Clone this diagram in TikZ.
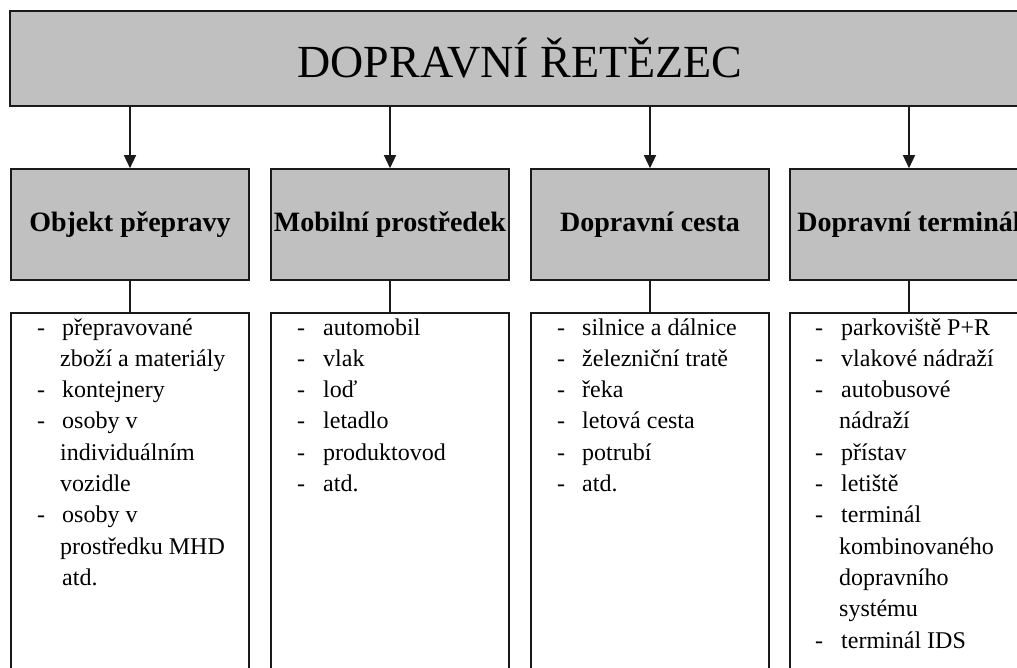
\documentclass[tikz,border=0pt]{standalone}
\usepackage{fontspec}
\setmainfont{Liberation Serif}
\usetikzlibrary{arrows.meta}
\definecolor{boxgray}{HTML}{C0C0C0}
\definecolor{edge}{HTML}{1A1A1A}
\begin{document}
\begin{tikzpicture}[x=1pt,y=-1pt,
  frame/.style={draw=edge, line width=1.6pt, inner sep=0pt},
  headbox/.style={frame, fill=boxgray, minimum width=238pt, minimum height=111pt,
    font=\fontsize{28}{30}\selectfont\bfseries},
  listbox/.style={frame, fill=white, minimum width=238pt, minimum height=400pt, anchor=north},
  listtext/.style={anchor=base west, inner sep=0pt, align=left,
    font=\fontsize{24}{31.3}\selectfont},
  link/.style={draw=edge, line width=1.4pt},
  arrowlink/.style={link, -{Triangle[length=13pt,width=12pt]}}
]
\useasboundingbox (0,0) rectangle (1017,667);
\clip (0,0) rectangle (1017,667);

% title bar
\node[frame, fill=boxgray, minimum width=1020pt, minimum height=95pt,
      font=\fontsize{46}{50}\selectfont] (chain) at (520,58.5) {DOPRAVNÍ ŘETĚZEC};

% category boxes
\node[headbox] (h1) at (130,224.5) {Objekt přepravy};
\node[headbox] (h2) at (390,224.5) {Mobilní prostředek};
\node[headbox] (h3) at (650,224.5) {Dopravní cesta};
\node[headbox] (h4) at (909,224.5) {Dopravní terminál};

% item boxes
\node[listbox] (b1) at (130,312) {};
\node[listbox] (b2) at (390,312) {};
\node[listbox] (b3) at (650,312) {};
\node[listbox] (b4) at (909,312) {};

% arrows and links
\foreach \i in {1,2,3,4} {
  \draw[arrowlink] (chain.south -| h\i.north) -- (h\i.north);
  \draw[link] (h\i.south) -- (b\i.north);
}

% item lists
\node[listtext] (t1) at (37,335) {\begin{tabular}[t]{@{}p{25pt}@{}l@{}}
- & přepravované\\
  & \hspace{-2pt}zboží a materiály\\
- & kontejnery\\
- & osoby v\\
  & \hspace{-2pt}individuálním\\
  & \hspace{-2pt}vozidle\\
- & osoby v\\
  & \hspace{-2pt}prostředku MHD\\
  & atd.
\end{tabular}};
\node[listtext] (t2) at (297,335) {\begin{tabular}[t]{@{}p{26pt}@{}l@{}}
- & automobil\\
- & vlak\\
- & loď\\
- & letadlo\\
- & produktovod\\
- & atd.
\end{tabular}};
\node[listtext] (t3) at (557,335) {\begin{tabular}[t]{@{}p{25pt}@{}l@{}}
- & silnice a dálnice\\
- & železniční tratě\\
- & řeka\\
- & letová cesta\\
- & potrubí\\
- & atd.
\end{tabular}};
\node[listtext] (t4) at (815,335) {\begin{tabular}[t]{@{}p{26pt}@{}l@{}}
- & parkoviště P+R\\
- & vlakové nádraží\\
- & autobusové\\
  & \hspace{-2pt}nádraží\\
- & přístav\\
- & letiště\\
- & terminál\\
  & \hspace{-2pt}kombinovaného\\
  & \hspace{-2pt}dopravního\\
  & \hspace{-2pt}systému\\
- & terminál IDS
\end{tabular}};
\end{tikzpicture}
\end{document}
